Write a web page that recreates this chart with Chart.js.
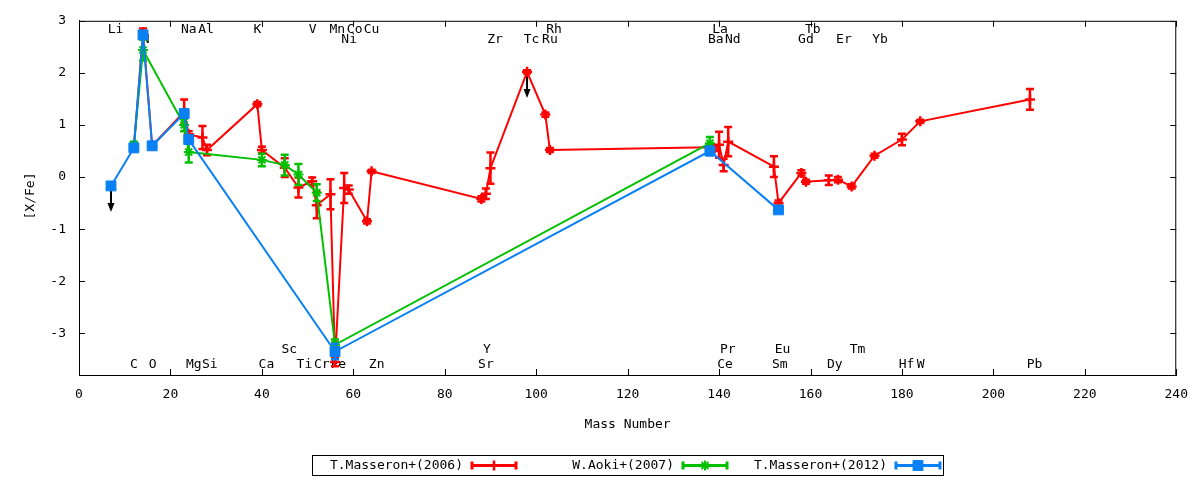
<!DOCTYPE html>
<html>
<head>
<meta charset="utf-8">
<script src="https://cdn.jsdelivr.net/npm/chart.js@4.4.1/dist/chart.umd.min.js"></script>
<style>
  html, body { margin: 0; padding: 0; background: #fff; }
</style>
</head>
<body>
<canvas id="chart" width="1200" height="480"></canvas>
<script>
const FONT_FAMILY = '"DejaVu Sans Mono", "Liberation Mono", monospace';

// T.Masseron+(2006)
const massM06 = [12, 14, 16, 23, 24, 27, 28, 39, 40, 45, 48, 51, 52, 55, 56, 58, 59, 63, 64,
                 88, 89, 90, 98, 102, 103, 138, 139, 140, 141, 142, 152, 153, 158, 159,
                 164, 166, 169, 174, 180, 184, 208];
const xfeM06 = [0.56, 2.78, 0.60, 1.25, 0.82, 0.76, 0.52, 1.40, 0.52, 0.18, -0.20, -0.08, -0.54, -0.33, -3.55, -0.21, -0.24, -0.85, 0.11,
                -0.42, -0.32, 0.17, 2.02, 1.20, 0.52, 0.57, 0.55, 0.62, 0.23, 0.68, 0.20, -0.50, 0.08, -0.09,
                -0.06, -0.05, -0.18, 0.41, 0.72, 1.07, 1.49];
const errM06 = [0.05, 0.07, 0.05, 0.24, 0.06, 0.22, 0.10, 0.04, 0.06, 0.18, 0.19, 0.07, 0.25, 0.29, 0.08, 0.29, 0.08, 0.04, 0.03,
                0.05, 0.10, 0.30, 0.03, 0.04, 0.04, 0.05, 0.05, 0.25, 0.12, 0.28, 0.20, 0.05, 0.05, 0.04,
                0.09, 0.05, 0.04, 0.04, 0.11, 0.03, 0.20];
const upperM06 = [98];

// W.Aoki+(2007)
const massA07 = [12, 14, 23, 24, 40, 45, 48, 52, 56, 138];
const xfeA07 = [0.62, 2.44, 1.00, 0.48, 0.33, 0.23, 0.05, -0.30, -3.22, 0.65];
const errA07 = [0.06, 0.20, 0.12, 0.20, 0.12, 0.20, 0.20, 0.16, 0.10, 0.12];

// T.Masseron+(2012)
const massM12 = [7, 12, 14, 16, 23, 24, 56, 138, 153];
const xfeM12 = [-0.17, 0.56, 2.73, 0.60, 1.22, 0.72, -3.35, 0.50, -0.63];
const errM12 = [0, 0.05, 0.05, 0.06, 0.05, 0.05, 0.15, 0.08, 0.04];
const upperM12 = [7];

const xTicks = [0, 20, 40, 60, 80, 100, 120, 140, 160, 180, 200, 220, 240];
const yTicks = [-3, -2, -1, 0, 1, 2, 3];

// element symbols: name, mass position, text row
const symNames = ['Li', 'Na', 'Al', 'K', 'V', 'Mn', 'Co', 'Cu', 'Rh', 'La', 'Tb',
                  'N', 'Ni', 'Zr', 'Tc', 'Ru', 'Ba', 'Nd', 'Gd', 'Er', 'Yb',
                  'Sc', 'Y', 'Pr', 'Eu', 'Tm',
                  'C', 'O', 'Mg', 'Si', 'Ca', 'Ti', 'Cr', 'Fe', 'Zn', 'Sr', 'Ce', 'Sm', 'Dy', 'Hf', 'W', 'Pb'];
const symMass = [8.0, 24.0, 27.8, 39.0, 51.1, 56.5, 60.3, 64.0, 103.9, 140.2, 160.5,
                 14.6, 59.1, 91.0, 99.0, 103.0, 139.3, 143.0, 159.0, 167.3, 175.2,
                 46.0, 89.2, 141.9, 153.9, 170.3,
                 12.0, 16.1, 25.1, 28.6, 41.0, 49.3, 53.1, 56.7, 65.1, 89.0, 141.3, 153.3, 165.3, 181.0, 184.1, 209.0];
const symRow = [0, 0, 0, 0, 0, 0, 0, 0, 0, 0, 0,
                1, 1, 1, 1, 1, 1, 1, 1, 1, 1,
                2, 2, 2, 2, 2,
                3, 3, 3, 3, 3, 3, 3, 3, 3, 3, 3, 3, 3, 3, 3, 3];
const rowValue = [2.84, 2.63, -3.31, -3.60];

const RED = '#ff0000';
const GREEN = '#00c000';
const BLUE = '#0a80f5';

function toPoints(mass, vals) {
    return mass.map((m, i) => ({x: m, y: vals[i]}));
}

function makeSeries(label, mass, vals, errs, upper, color, style, radius, pbw, order) {
    return {
        label: label,
        data: toPoints(mass, vals),
        errs: errs,
        upper: upper,
        borderColor: color,
        backgroundColor: color,
        borderWidth: 2,
        pointStyle: style,
        pointRadius: radius,
        pointBorderWidth: pbw,
        pointBackgroundColor: color,
        pointBorderColor: color,
        tension: 0,
        fill: false,
        order: order
    };
}

// vertical error bars with caps, drawn just before each dataset
const errorBars = {
    id: 'errorBars',
    beforeDatasetDraw(chart, args) {
        let ds = chart.data.datasets[args.index];
        let ys = chart.scales.y;
        let ctx = chart.ctx;
        ctx.save();
        ctx.strokeStyle = ds.borderColor;
        ctx.lineWidth = 2.5;
        args.meta.data.forEach((pt, i) => {
            let e = ds.errs[i];
            if (!e) return;
            let v = ds.data[i].y;
            let y1 = ys.getPixelForValue(v + e);
            let y2 = ys.getPixelForValue(v - e);
            ctx.beginPath();
            ctx.moveTo(pt.x, y1); ctx.lineTo(pt.x, y2);
            ctx.moveTo(pt.x - 4, y1); ctx.lineTo(pt.x + 4, y1);
            ctx.moveTo(pt.x - 4, y2); ctx.lineTo(pt.x + 4, y2);
            ctx.stroke();
        });
        ctx.restore();
    }
};

// element names and upper-limit arrows, under the data
const annotations = {
    id: 'annotations',
    beforeDatasetsDraw(chart) {
        let ctx = chart.ctx;
        let xs = chart.scales.x, ys = chart.scales.y;
        ctx.save();
        ctx.fillStyle = '#000';
        ctx.font = '13px ' + FONT_FAMILY;
        ctx.textAlign = 'center';
        ctx.textBaseline = 'middle';
        symNames.forEach((s, i) => {
            ctx.fillText(s, xs.getPixelForValue(symMass[i]), ys.getPixelForValue(rowValue[symRow[i]]));
        });

        ctx.strokeStyle = '#000';
        ctx.lineWidth = 2;
        chart.data.datasets.forEach(ds => {
            ds.upper.forEach(m => {
                let p = ds.data.find(d => d.x === m);
                let px = xs.getPixelForValue(p.x);
                let y0 = ys.getPixelForValue(p.y);
                let y1 = ys.getPixelForValue(p.y - 0.5);
                ctx.beginPath();
                ctx.moveTo(px, y0);
                ctx.lineTo(px, y1 - 6);
                ctx.stroke();
                ctx.beginPath();
                ctx.moveTo(px, y1);
                ctx.lineTo(px - 3.5, y1 - 9);
                ctx.lineTo(px + 3.5, y1 - 9);
                ctx.closePath();
                ctx.fill();
            });
        });
        ctx.restore();
    }
};

// gnuplot style frame: full border, inward ticks, axis titles and boxed key
const frame = {
    id: 'frame',
    afterDraw(chart) {
        let ctx = chart.ctx;
        let a = chart.chartArea;
        let xs = chart.scales.x, ys = chart.scales.y;
        ctx.save();
        ctx.strokeStyle = '#000';
        ctx.lineWidth = 1;
        ctx.strokeRect(a.left + 0.5, a.top + 0.5, a.right - a.left - 1, a.bottom - a.top);
        ctx.beginPath();
        xTicks.forEach(v => {
            let px = Math.round(xs.getPixelForValue(v)) + 0.5;
            ctx.moveTo(px, a.bottom); ctx.lineTo(px, a.bottom - 6);
            ctx.moveTo(px, a.top); ctx.lineTo(px, a.top + 6);
        });
        yTicks.forEach(v => {
            let py = Math.round(ys.getPixelForValue(v)) + 0.5;
            ctx.moveTo(a.left, py); ctx.lineTo(a.left + 6, py);
            ctx.moveTo(a.right, py); ctx.lineTo(a.right - 6, py);
        });
        ctx.stroke();

        ctx.fillStyle = '#000';
        ctx.font = '13px ' + FONT_FAMILY;
        ctx.textAlign = 'center';
        ctx.textBaseline = 'middle';
        ctx.fillText('Mass Number', (a.left + a.right) / 2, 425);
        ctx.save();
        ctx.translate(31, 196);
        ctx.rotate(-Math.PI / 2);
        ctx.fillText('[X/Fe]', 0, 0);
        ctx.restore();

        // key
        ctx.strokeRect(312.5, 455.5, 631, 20);
        let keyEnds = [463, 674, 887];
        ctx.textAlign = 'right';
        chart.data.datasets.forEach((ds, i) => {
            let tx = keyEnds[i];
            let yk = 465.5;
            ctx.fillStyle = '#000';
            ctx.fillText(ds.label, tx, yk);
            let x1 = tx + 9, x2 = tx + 53;
            ctx.strokeStyle = ds.borderColor;
            ctx.lineWidth = 3;
            ctx.beginPath();
            ctx.moveTo(x1, yk); ctx.lineTo(x2, yk);
            ctx.moveTo(x1, yk - 4); ctx.lineTo(x1, yk + 4);
            ctx.moveTo(x2, yk - 4); ctx.lineTo(x2, yk + 4);
            ctx.stroke();
            ctx.fillStyle = ds.borderColor;
            ctx.lineWidth = ds.pointBorderWidth;
            Chart.helpers.drawPoint(ctx, {
                pointStyle: ds.pointStyle, radius: ds.pointRadius,
                borderWidth: ds.pointBorderWidth, rotation: 0
            }, (x1 + x2) / 2, yk);
            ctx.strokeStyle = '#000';
            ctx.lineWidth = 1;
        });
        ctx.restore();
    }
};

let ctx = document.getElementById('chart').getContext('2d');
let chart = new Chart(ctx, {
    type: 'line',
    data: {
        datasets: [
            makeSeries('T.Masseron+(2006)', massM06, xfeM06, errM06, upperM06, RED, 'cross', 5, 2.5, 3),
            makeSeries('W.Aoki+(2007)', massA07, xfeA07, errA07, [], GREEN, 'star', 5, 2, 2),
            makeSeries('T.Masseron+(2012)', massM12, xfeM12, errM12, upperM12, BLUE, 'rect', 7, 1, 1)
        ]
    },
    options: {
        responsive: false,
        animation: false,
        events: [],
        layout: {padding: {top: 17, right: 23, left: 0, bottom: 0}},
        plugins: {legend: {display: false}, tooltip: {enabled: false}},
        scales: {
            x: {
                type: 'linear',
                min: 0,
                max: 240,
                afterBuildTicks: s => { s.ticks = xTicks.map(v => ({value: v})); },
                afterFit: s => { s.height = 105; },
                grid: {drawOnChartArea: false, drawTicks: false},
                border: {color: '#000', width: 1},
                ticks: {color: '#000', padding: 12, maxRotation: 0, font: {family: FONT_FAMILY, size: 13}}
            },
            y: {
                type: 'linear',
                min: -3.8,
                max: 3,
                afterBuildTicks: s => { s.ticks = yTicks.map(v => ({value: v})); },
                afterFit: s => { s.width = 79; },
                grid: {drawOnChartArea: false, drawTicks: false},
                border: {color: '#000', width: 1},
                ticks: {color: '#000', padding: 13, font: {family: FONT_FAMILY, size: 13}}
            }
        }
    },
    plugins: [errorBars, annotations, frame]
});
</script>
</body>
</html>
